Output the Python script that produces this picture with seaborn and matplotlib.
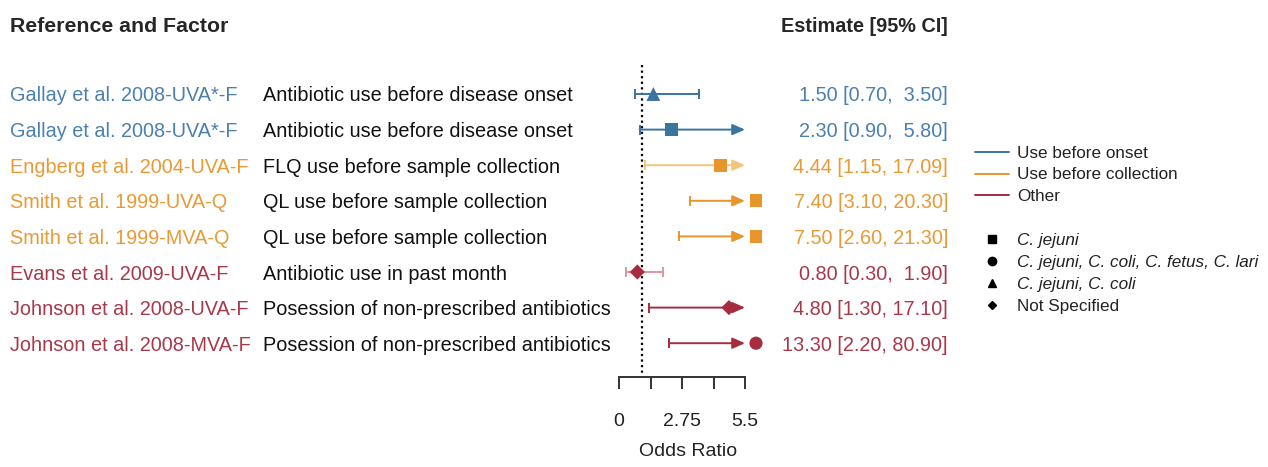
import numpy as np
import pandas as pd
import seaborn as sns
import matplotlib.pyplot as plt
from matplotlib.lines import Line2D
from matplotlib.transforms import blended_transform_factory

# dados do forest plot
refs = ['Gallay et al. 2008-UVA*-F', 'Gallay et al. 2008-UVA*-F', 'Engberg et al. 2004-UVA-F',
        'Smith et al. 1999-UVA-Q', 'Smith et al. 1999-MVA-Q', 'Evans et al. 2009-UVA-F',
        'Johnson et al. 2008-UVA-F', 'Johnson et al. 2008-MVA-F']
factors = ['Antibiotic use before disease onset', 'Antibiotic use before disease onset',
           'FLQ use before sample collection', 'QL use before sample collection',
           'QL use before sample collection', 'Antibiotic use in past month',
           'Posession of non-prescribed antibiotics', 'Posession of non-prescribed antibiotics']
est = [1.50, 2.30, 4.44, 7.40, 7.50, 0.80, 4.80, 13.30]
lower = [0.70, 0.90, 1.15, 3.10, 2.60, 0.30, 1.30, 2.20]
upper = [3.50, 5.80, 17.09, 20.30, 21.30, 1.90, 17.10, 80.90]
groups = ['Use before onset', 'Use before onset', 'Use before collection', 'Use before collection',
          'Use before collection', 'Other', 'Other', 'Other']
species = ['C. jejuni, C. coli', 'C. jejuni', 'C. jejuni', 'C. jejuni', 'C. jejuni',
           'Not Specified', 'Not Specified', 'C. jejuni, C. coli, C. fetus, C. lari']

group_names = ['Use before onset', 'Use before collection', 'Other']
species_names = ['C. jejuni', 'C. jejuni, C. coli, C. fetus, C. lari', 'C. jejuni, C. coli', 'Not Specified']
xticks = [0, 1.375, 2.75, 4.125, 5.5]
xticklabels = ['0', '', '2.75', '', '5.5']

# estilos
pal = {'Use before onset': '#3a74a0', 'Use before collection': '#e8952c', 'Other': '#a62d40'}
pal_text = {'Use before onset': '#4a80b0', 'Use before collection': '#e89a35', 'Other': '#a8384a'}
pale = {2: '#f3c57a', 5: '#dc97a1'}
mk = {'C. jejuni': 's', 'C. jejuni, C. coli, C. fetus, C. lari': 'o', 'C. jejuni, C. coli': '^',
      'Not Specified': 'D'}
msz = {'C. jejuni': 85, 'C. jejuni, C. coli, C. fetus, C. lari': 90, 'C. jejuni, C. coli': 100,
       'Not Specified': 60}
alim = 5.5
shown_max = 5.98
fs = 14.3

sns.set_style('white')
plt.rcParams['font.family'] = ['Liberation Sans', 'DejaVu Sans']

df = pd.DataFrame({'ref': refs, 'factor': factors, 'est': est, 'lower': lower, 'upper': upper,
                   'group': groups, 'species': species})
df['row'] = np.arange(1, len(df) + 1)
df['x_plot'] = np.minimum(df['est'], shown_max)

W, H = 1268, 467
fig = plt.figure(figsize=(W / 100, H / 100), dpi=100)
ppu = (745 - 619) / 5.5
x0, x1 = -1, 7
ybot = 1 + (377 - 94) / 35.6
ytop = 1 - (94 - 20) / 35.6
ax = fig.add_axes([(619 + x0 * ppu) / W, 1 - 377 / H, (x1 - x0) * ppu / W, (377 - 20) / H])
ax.set_xlim(x0, x1)
ax.set_ylim(ybot, ytop)

# linha de referencia em OR = 1
ax.vlines(1, 0.185, ybot, colors='black', linestyles=(0, (1, 1.5)), lw=1.6, zorder=1)

# intervalos de confianca
for i, r in df.iterrows():
    c = pale.get(i, pal[r['group']])
    ax.plot([r['lower']], [r['row']], marker='|', ms=7, mew=1.4, color=c, zorder=2)
    if r['upper'] > alim:
        ax.annotate('', xy=(alim, r['row']), xytext=(r['lower'], r['row']),
                    arrowprops=dict(arrowstyle='-|>,head_length=0.75,head_width=0.33',
                                    color=c, lw=1.4, shrinkA=0, shrinkB=0), zorder=2)
    else:
        ax.hlines(r['row'], r['lower'], r['upper'], colors=c, lw=1.4, zorder=2)
        ax.plot([r['upper']], [r['row']], marker='|', ms=7, mew=1.4, color=c, zorder=2)

# estimativas pontuais
sns.scatterplot(data=df, x='x_plot', y='row', hue='group', style='species', size='species',
                palette=pal, markers=mk, sizes=msz, linewidth=0, legend=False, ax=ax,
                clip_on=False, zorder=3)

# eixo x
sns.despine(ax=ax, left=True)
ax.spines['bottom'].set_bounds(0, alim)
ax.spines['bottom'].set_color('#333333')
ax.spines['bottom'].set_linewidth(1.4)
ax.set_xticks(xticks)
ax.set_xticklabels(xticklabels)
ax.tick_params(axis='x', direction='out', length=8.5, width=1.4, color='#333333', pad=17.5,
               labelsize=14, labelcolor='#222222', bottom=True)
ax.set_yticks([])
ax.set_ylabel('')
ax.set_xlabel('Odds Ratio', fontsize=14, color='#222222', labelpad=9)
ax.patch.set_alpha(0)

# textos das colunas
tr = blended_transform_factory(fig.transFigure, ax.transData)
ax.text(10 / W, -0.94, 'Reference and Factor', transform=tr, fontsize=15.3, fontweight='bold',
        ha='left', va='center_baseline')
ax.text(948 / W, -0.94, 'Estimate [95% CI]', transform=tr, fontsize=14.3, fontweight='bold',
        ha='right', va='center_baseline')
for i, r in df.iterrows():
    ax.text(10 / W, r['row'], r['ref'], transform=tr, fontsize=fs, color=pal_text[r['group']],
            ha='left', va='center_baseline')
    ax.text(263 / W, r['row'], r['factor'], transform=tr, fontsize=fs, color='#111111',
            ha='left', va='center_baseline')
    lab = f"{r['est']:.2f} [{r['lower']:.2f}, {r['upper']:5.2f}]"
    ax.text(948 / W, r['row'], lab, transform=tr, fontsize=fs, color=pal_text[r['group']],
            ha='right', va='center_baseline')

# legendas
h1 = [Line2D([], [], color=pal[g], lw=1.4) for g in group_names]
leg1 = fig.legend(h1, group_names, loc='upper left', bbox_to_anchor=(975 / W, 1 - 146 / H),
                  frameon=False, fontsize=12.3, handlelength=2.0, handletextpad=0.45,
                  labelspacing=0.38, borderpad=0, borderaxespad=0)
h2 = [Line2D([], [], color='black', lw=0, marker=mk[s], ms=6 if s != 'Not Specified' else 4.5)
      for s in species_names]
leg2 = fig.legend(h2, species_names, loc='upper left', bbox_to_anchor=(975 / W, 1 - 233 / H),
                  frameon=False, fontsize=12.3, handlelength=2.0, handletextpad=0.45,
                  labelspacing=0.4, borderpad=0, borderaxespad=0)
for t in leg2.get_texts()[:3]:
    t.set_style('italic')
for leg in (leg1, leg2):
    for t in leg.get_texts():
        t.set_color('#222222')

fig.savefig('out.png', dpi=100)
